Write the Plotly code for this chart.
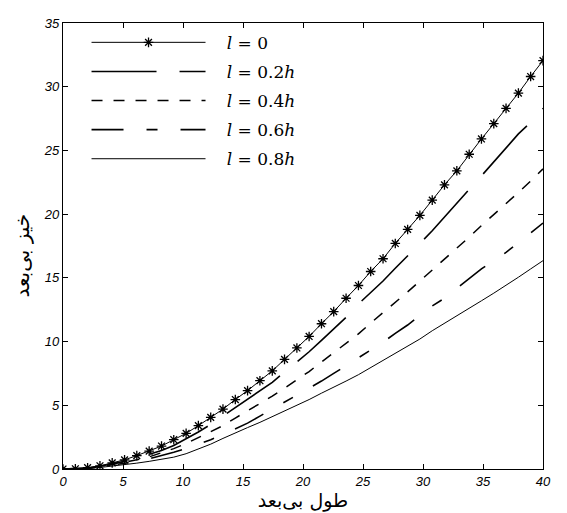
import plotly.graph_objects as go

# x positions (40 equally spaced samples over 0..40)
x_vals = [0.00, 1.03, 2.05, 3.08, 4.10, 5.13, 6.15, 7.18, 8.21, 9.23,
          10.26, 11.28, 12.31, 13.33, 14.36, 15.38, 16.41, 17.44, 18.46, 19.49,
          20.51, 21.54, 22.56, 23.59, 24.62, 25.64, 26.67, 27.69, 28.72, 29.74,
          30.77, 31.79, 32.82, 33.85, 34.87, 35.90, 36.92, 37.95, 38.97, 40.00]

y_l0 = [0.00, 0.02, 0.10, 0.25, 0.48, 0.72, 1.05, 1.40, 1.80, 2.30,
        2.80, 3.40, 4.05, 4.70, 5.45, 6.15, 6.93, 7.70, 8.60, 9.50,
        10.40, 11.40, 12.35, 13.40, 14.40, 15.50, 16.50, 17.70, 18.80, 19.90,
        21.10, 22.30, 23.40, 24.70, 25.90, 27.10, 28.30, 29.50, 30.80, 32.05]

y_l02 = [0.00, 0.02, 0.08, 0.21, 0.40, 0.60, 0.85, 1.12, 1.45, 1.85,
         2.35, 2.90, 3.50, 4.15, 4.80, 5.45, 6.10, 6.80, 7.60, 8.40,
         9.20, 10.10, 11.00, 11.90, 12.95, 13.85, 14.75, 15.75, 16.70, 17.70,
         18.70, 19.80, 20.85, 21.95, 23.00, 24.10, 25.20, 26.30, 27.20, 28.30]

y_l04 = [0.00, 0.02, 0.07, 0.18, 0.34, 0.52, 0.72, 0.95, 1.25, 1.60,
         2.00, 2.45, 2.90, 3.40, 4.00, 4.55, 5.10, 5.72, 6.35, 7.00,
         7.65, 8.40, 9.15, 9.85, 10.60, 11.45, 12.25, 13.05, 13.90, 14.75,
         15.60, 16.45, 17.30, 18.20, 19.10, 19.95, 20.85, 21.70, 22.60, 23.55]

y_l06 = [0.00, 0.01, 0.06, 0.15, 0.28, 0.43, 0.60, 0.80, 1.05, 1.32,
         1.62, 1.95, 2.30, 2.70, 3.12, 3.60, 4.15, 4.70, 5.22, 5.75,
         6.30, 6.90, 7.50, 8.10, 8.75, 9.35, 9.95, 10.65, 11.30, 12.05,
         12.80, 13.40, 14.15, 14.90, 15.70, 16.35, 17.00, 17.75, 18.50, 19.30]

y_l08 = [0.00, 0.01, 0.05, 0.12, 0.22, 0.33, 0.46, 0.60, 0.76, 0.93,
         1.20, 1.55, 1.95, 2.40, 2.85, 3.25, 3.66, 4.10, 4.55, 5.00,
         5.45, 5.95, 6.40, 6.90, 7.40, 7.95, 8.50, 9.05, 9.60, 10.20,
         10.85, 11.45, 12.00, 12.60, 13.20, 13.80, 14.40, 15.05, 15.70, 16.35]

pad = "&nbsp;&nbsp;&nbsp;"
series_names = [pad + "<i>l</i> = 0", pad + "<i>l</i> = 0.2<i>h</i>", pad + "<i>l</i> = 0.4<i>h</i>",
                pad + "<i>l</i> = 0.6<i>h</i>", pad + "<i>l</i> = 0.8<i>h</i>"]

x_ticks = [0, 5, 10, 15, 20, 25, 30, 35, 40]
y_ticks = [0, 5, 10, 15, 20, 25, 30, 35]

x_title = "طول بی\u200cبعد"
y_title = "خیز بی\u200cبعد"

fig = go.Figure()

fig.add_trace(go.Scatter(
    x=x_vals, y=y_l0, name=series_names[0], mode="lines+markers", legendgroup="a",
    line=dict(color="black", width=1),
    marker=dict(symbol="asterisk-open", size=8, line=dict(color="black", width=1.3)),
))
fig.add_trace(go.Scatter(
    x=x_vals, y=y_l02, name=series_names[1], mode="lines", legendgroup="b",
    line=dict(color="black", width=1.6, dash="65px,23px"),
))
fig.add_trace(go.Scatter(
    x=x_vals, y=y_l04, name=series_names[2], mode="lines", legendgroup="c",
    line=dict(color="black", width=1.5, dash="11px,11px"),
))
fig.add_trace(go.Scatter(
    x=x_vals, y=y_l06, name=series_names[3], mode="lines", legendgroup="d",
    line=dict(color="black", width=1.6, dash="32px,23px,11px,23px"),
))
fig.add_trace(go.Scatter(
    x=x_vals, y=y_l08, name=series_names[4], mode="lines", legendgroup="e",
    line=dict(color="black", width=1),
))

tickfont = dict(family="Liberation Sans, Arial, sans-serif", size=13, color="black", style="italic")

fig.update_layout(
    width=559, height=505,
    margin=dict(l=55, r=24, t=8, b=44),
    paper_bgcolor="white", plot_bgcolor="white",
    showlegend=True,
    legend=dict(
        x=0.049, y=0.996, xanchor="left", yanchor="top",
        bgcolor="rgba(0,0,0,0)", borderwidth=0,
        font=dict(family="DejaVu Serif, Liberation Serif, serif", size=17, color="black"),
        itemwidth=114, tracegroupgap=4,
    ),
    xaxis=dict(
        range=[0, 40], tickvals=x_ticks, ticks="inside", ticklen=5, tickcolor="black",
        showline=True, linecolor="black", linewidth=1.2, mirror="ticks",
        showgrid=False, zeroline=False, tickfont=tickfont,
        title=dict(text=x_title, font=dict(family="DejaVu Sans", size=19, color="black"), standoff=0),
    ),
    yaxis=dict(
        range=[0, 35], tickvals=y_ticks, ticks="inside", ticklen=5, tickcolor="black",
        showline=True, linecolor="black", linewidth=1.2, mirror="ticks",
        showgrid=False, zeroline=False, tickfont=tickfont,
    ),
    annotations=[dict(
        text=y_title, xref="paper", yref="paper", x=-0.085, y=0.479,
        xanchor="center", yanchor="middle", textangle=-90, showarrow=False,
        font=dict(family="DejaVu Sans", size=20, color="black"),
    )],
)

fig.write_html("out.html")
